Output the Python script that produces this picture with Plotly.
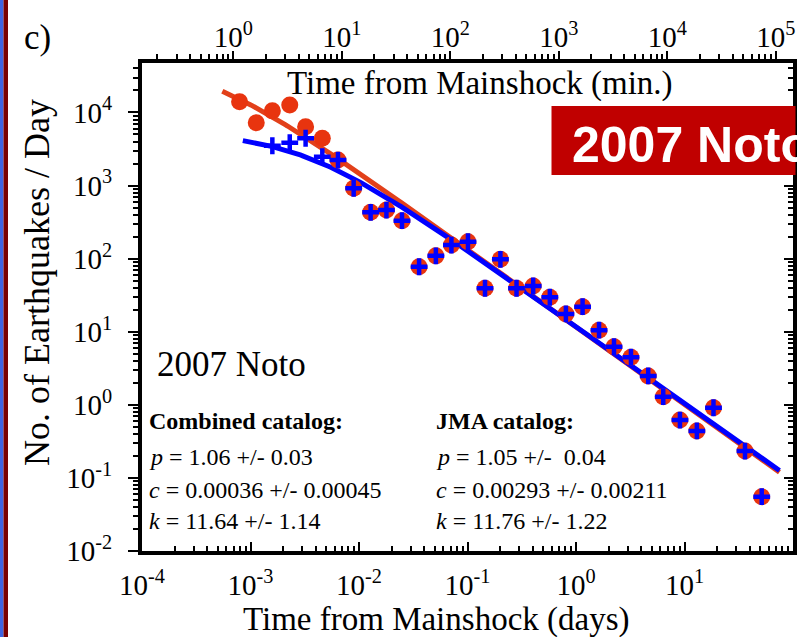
import numpy as np
import plotly.graph_objects as go

# ---------------- data ----------------
bin_days = [7.93e-4, 1.13e-3, 1.59e-3, 2.30e-3, 3.22e-3, 4.59e-3, 6.40e-3, 8.93e-3,
            0.0128, 0.0179, 0.0249, 0.0358, 0.0511, 0.0711, 0.101, 0.145, 0.201,
            0.283, 0.403, 0.574, 0.807, 1.15, 1.63, 2.24, 3.21, 4.63, 6.37, 9.08,
            13.0, 18.5, 36.1, 51.5]
combined_rate = [14000, 7230, 10500, 12600, 6370, 4430, 2230, 916, 430, 462, 330,
                 77.4, 109, 153, 170, 39.3, 97.7, 39.3, 42.2, 29.6, 17.5, 22.0,
                 10.5, 6.24, 4.47, 2.48, 1.29, 0.619, 0.439, 0.912, 0.233, 0.0553]
jma_days = bin_days[2:]
jma_rate = [3500, 3850, 4430, 2480, 2230, 916, 430, 462, 330,
            77.4, 109, 153, 170, 39.3, 97.7, 39.3, 42.2, 29.6, 17.5, 22.0,
            10.5, 6.24, 4.47, 2.48, 1.29, 0.619, 0.439, 0.912, 0.233, 0.0553]

# Omori-law fit parameters printed on the chart
fit_names = ["Combined catalog", "JMA catalog"]
fit_p = [1.06, 1.05]
fit_c = [0.00036, 0.00293]
fit_k = [11.64, 11.76]
fit_p_err = [0.03, 0.04]
fit_c_err = [0.00045, 0.00211]
fit_k_err = [1.14, 1.22]
fit_t_start = [5.5e-4, 8.5e-4]
fit_t_end = [75.0, 75.0]

x_tick_exp = [-4, -3, -2, -1, 0, 1, 2]
y_tick_exp = [-2, -1, 0, 1, 2, 3, 4]
min_tick_exp = [0, 1, 2, 3, 4, 5]
MIN_PER_DAY = 1440.0

# ---------------- styling ----------------
SERIF = "Liberation Serif, Times New Roman, serif"
SANS = "Liberation Sans, Arial, sans-serif"
RED_DOT = "#e8340f"
RED_LINE = "#e2401a"
BLUE = "#0000ff"

XR = [-4, 2]
YR = [-2, 4.676]
L, R, T, B = 142, 18, 63, 86
W, H = 811, 637
PW, PH = W - L - R, H - T - B


def px(xp):
    return (xp - L) / PW


def py(yp):
    return (H - B - yp) / PH


def minor_vals(lo, hi):
    vals = []
    for e in range(int(np.floor(lo)) - 1, int(np.ceil(hi)) + 1):
        for m in range(2, 10):
            v = m * 10.0 ** e
            if lo <= np.log10(v) <= hi:
                vals.append(v)
    return vals


def sup_text(e):
    return "10<sup>%d</sup>" % e


fig = go.Figure()

# fitted Omori curves
line_colors = [RED_LINE, BLUE]
for i in range(2):
    t = np.geomspace(fit_t_start[i], fit_t_end[i], 300)
    n = fit_k[i] / (t + fit_c[i]) ** fit_p[i]
    fig.add_trace(go.Scatter(x=t, y=n, mode="lines", name=fit_names[i] + " fit",
                             line=dict(color=line_colors[i], width=5),
                             hoverinfo="skip"))

# data markers
fig.add_trace(go.Scatter(x=bin_days, y=combined_rate, mode="markers",
                         name="Combined catalog",
                         marker=dict(symbol="circle", size=17, color=RED_DOT,
                                     line=dict(width=0))))
fig.add_trace(go.Scatter(x=jma_days, y=jma_rate, mode="markers",
                         name="JMA catalog",
                         marker=dict(symbol="cross-thin", size=12,
                                     line=dict(width=4.5, color=BLUE))))

# helper traces for secondary axes
fig.add_trace(go.Scatter(x=[], y=[], xaxis="x2", yaxis="y", showlegend=False))
fig.add_trace(go.Scatter(x=[], y=[], xaxis="x", yaxis="y2", showlegend=False))

tickfont = dict(family=SERIF, size=29, color="black")
common = dict(type="log", showgrid=False, zeroline=False, showline=True,
              linewidth=4, linecolor="black", tickcolor="black", tickwidth=2,
              tickfont=tickfont, automargin=False)

min_lo = XR[0] + np.log10(MIN_PER_DAY)
min_hi = XR[1] + np.log10(MIN_PER_DAY)

fig.update_layout(
    width=W, height=H,
    margin=dict(l=L, r=R, t=T, b=B, autoexpand=False),
    paper_bgcolor="white", plot_bgcolor="white",
    showlegend=False,
    xaxis=dict(range=XR, tickmode="array",
               tickvals=[10.0 ** e for e in x_tick_exp],
               ticktext=[sup_text(e) for e in x_tick_exp],
               ticks="inside", ticklen=9, ticklabelstandoff=5,
               minor=dict(tickmode="array", tickvals=minor_vals(*XR),
                          ticks="inside", ticklen=5, tickwidth=1.5,
                          tickcolor="black", showgrid=False),
               **common),
    xaxis2=dict(range=[min_lo, min_hi], overlaying="x", side="top", anchor="y",
                tickmode="array",
                tickvals=[10.0 ** e for e in min_tick_exp],
                ticktext=[sup_text(e) for e in min_tick_exp],
                ticks="outside", ticklen=8, ticklabelstandoff=-8,
                minor=dict(tickmode="array", tickvals=minor_vals(min_lo, min_hi),
                           ticks="outside", ticklen=5, tickwidth=1.5,
                           tickcolor="black", showgrid=False),
                **common),
    yaxis=dict(range=YR, tickmode="array",
               tickvals=[10.0 ** e for e in y_tick_exp],
               ticktext=[sup_text(e) for e in y_tick_exp],
               ticks="outside", ticklen=10, ticklabelstandoff=10,
               minor=dict(tickmode="array", tickvals=minor_vals(*YR),
                          ticks="outside", ticklen=5, tickwidth=1.5,
                          tickcolor="black", showgrid=False),
               **common),
    yaxis2=dict(range=YR, overlaying="y", side="right", anchor="x",
                tickmode="array",
                tickvals=[10.0 ** e for e in y_tick_exp],
                showticklabels=False,
                ticks="inside", ticklen=9,
                minor=dict(tickmode="array", tickvals=minor_vals(*YR),
                           ticks="inside", ticklen=5, tickwidth=1.5,
                           tickcolor="black", showgrid=False),
                **common),
)

# shapes: red title box and left border stripes
fig.add_shape(type="rect", xref="paper", yref="paper",
              x0=px(551.5), x1=px(795.5), y0=py(175), y1=py(106),
              fillcolor="#c00000", line=dict(width=0), layer="above")
fig.add_shape(type="rect", xref="paper", yref="paper",
              x0=px(0), x1=px(3.5), y0=py(H), y1=py(0),
              fillcolor="#3f63e0", line=dict(width=0), layer="above")
fig.add_shape(type="rect", xref="paper", yref="paper",
              x0=px(3.5), x1=px(8), y0=py(H), y1=py(0),
              fillcolor="#7a0000", line=dict(width=0), layer="above")


def ann(text, x, y, size, family=SERIF, color="black", xanchor="center",
        angle=0):
    fig.add_annotation(text=text, x=px(x), y=py(y), xref="paper", yref="paper",
                       showarrow=False, xanchor=xanchor, yanchor="middle",
                       textangle=angle,
                       font=dict(family=family, size=size, color=color))


ann("c)", 37, 38, 35)
ann("Time from Mainshock (min.)", 480, 83, 33)
ann("Time from Mainshock (days)", 436, 619, 33)
ann("No. of Earthquakes / Day", 37, 283, 36, angle=-90)
ann("2007 Noto", 155, 364, 35, xanchor="left")
ann("<b>2007 Noto</b>", 570, 145, 50, family=SANS, color="white",
    xanchor="left")

cols_x = [147, 434]
rows_y = [421, 457, 490, 521]
for i in range(2):
    ann("<b>%s:</b>" % fit_names[i], cols_x[i], rows_y[0], 24, xanchor="left")
    ann("<i>p</i> = %.2f +/- %s%.2f" % (fit_p[i], "\u00a0" if i == 1 else "",
                                          fit_p_err[i]),
        cols_x[i], rows_y[1], 24, xanchor="left")
    ann("<i>c</i> = %.5f +/- %.5f" % (fit_c[i], fit_c_err[i]),
        cols_x[i], rows_y[2], 24, xanchor="left")
    ann("<i>k</i> = %.2f +/- %.2f" % (fit_k[i], fit_k_err[i]),
        cols_x[i], rows_y[3], 24, xanchor="left")

fig.write_html("out.html")
